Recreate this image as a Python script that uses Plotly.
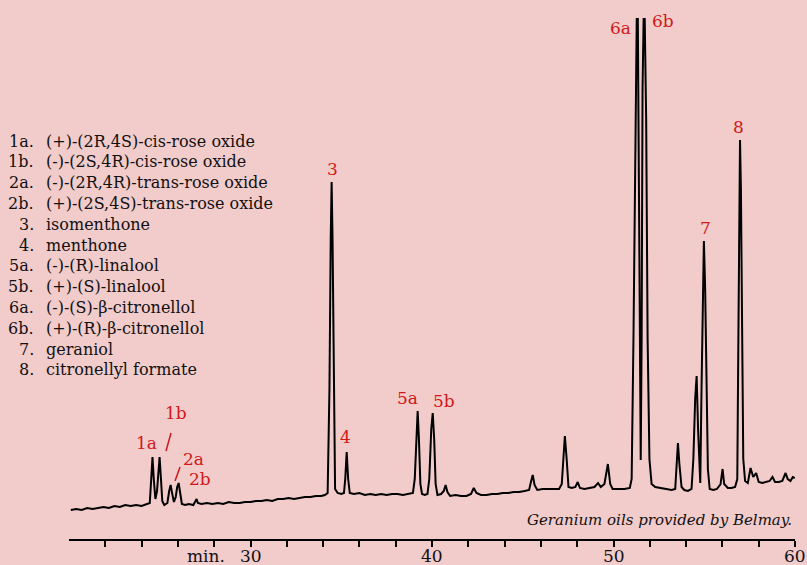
import plotly.graph_objects as go

# ---------------- data ----------------
times = [
    20.1, 20.4, 20.7, 21.0, 21.3, 21.6, 21.9, 22.2, 22.5, 22.8, 23.1, 23.4, 23.7, 24.0, 24.3,
    24.45, 24.53, 24.60, 24.67, 24.76,
    24.85, 24.92, 24.99, 25.06, 25.14, 25.25,
    25.42, 25.52, 25.60, 25.68, 25.78,
    25.88, 25.96, 26.04, 26.12, 26.22, 26.4, 26.6, 26.85,
    26.97, 27.03, 27.1, 27.3, 27.6, 27.9, 28.2, 28.5, 28.8, 29.1, 29.4, 29.7, 30.0, 30.3,
    30.6, 30.9, 31.2, 31.5, 31.8, 32.1, 32.4, 32.7, 33.0, 33.3, 33.6, 33.9, 34.1,
    34.25, 34.35, 34.42, 34.47, 34.52, 34.58, 34.66, 34.8, 35.0, 35.15,
    35.22, 35.30, 35.38, 35.47, 35.7, 36.0, 36.3, 36.6, 36.9, 37.2, 37.5, 37.8, 38.1, 38.4,
    38.7, 38.95,
    39.05, 39.14, 39.21, 39.28, 39.36, 39.45, 39.6, 39.75,
    39.85, 39.96, 40.04, 40.12, 40.2, 40.3, 40.5, 40.65, 40.75, 40.85, 41.0, 41.3, 41.6,
    41.9, 42.15, 42.3, 42.45, 42.7, 43.0, 43.3, 43.6, 43.9, 44.2, 44.5, 44.8, 45.1, 45.35,
    45.45, 45.55, 45.65, 45.8, 46.1, 46.4, 46.7, 47.0, 47.15,
    47.22, 47.32, 47.42, 47.52, 47.7, 47.9, 48.03, 48.15, 48.4, 48.7, 48.95, 49.15, 49.3,
    49.5, 49.69, 49.82, 49.95, 50.3, 50.6, 50.9,
    51.0, 51.1, 51.2, 51.28, 51.34, 51.4, 51.47, 51.5, 51.55, 51.6, 51.66, 51.72, 51.8,
    51.88, 51.98, 52.1, 52.3, 52.6, 52.9, 53.2, 53.4,
    53.48, 53.55, 53.63, 53.75, 53.9, 54.1, 54.3, 54.4, 54.5, 54.58, 54.66, 54.74, 54.78,
    54.85, 54.92, 54.98, 55.05, 55.12, 55.2, 55.3, 55.5, 55.7, 55.9, 56.01, 56.1, 56.3,
    56.5, 56.7, 56.82, 56.88, 56.93, 56.97, 57.02, 57.08, 57.15, 57.25, 57.4, 57.55, 57.7,
    57.86, 58.0, 58.2, 58.4, 58.6, 58.76, 58.9, 59.1, 59.3, 59.48, 59.6, 59.75, 59.88, 59.99,
]
signal = [
    29, 30, 29, 31, 30, 31, 32, 31, 33, 32, 34, 33, 34, 33, 35,
    36, 60, 82, 60, 40,
    48, 70, 82, 62, 38, 34,
    36, 48, 54, 46, 37,
    42, 52, 56, 46, 35, 34, 35, 34,
    38, 40, 36, 35, 36, 35, 36, 35, 37, 36, 36, 37, 37, 38,
    38, 39, 38, 40, 40, 41, 40, 41, 42, 42, 43, 43, 44,
    46, 150, 300, 357, 300, 150, 50, 46, 45, 46,
    60, 87, 60, 46, 45, 46, 44, 45, 44, 45, 44, 45, 45, 44,
    45, 46,
    60, 110, 128, 100, 55, 45, 44, 45,
    60, 110, 126, 100, 55, 44, 45, 48, 54, 47, 43, 44, 43,
    43, 45, 51, 46, 44, 44, 45, 45, 46, 46, 47, 47, 48, 49,
    57, 64, 54, 49, 50, 50, 50, 50, 55,
    80, 103, 80, 52, 51, 52, 57, 51, 50, 51, 52, 56, 52,
    55, 75, 55, 50, 50, 50, 51,
    60, 200, 420, 520, 520, 300, 90, 79, 200, 450, 520, 520, 420,
    200, 80, 55, 52, 51, 50, 49, 50,
    80, 96, 75, 52, 49, 48, 50, 80, 140, 163, 110, 62, 56,
    150, 260, 298, 250, 150, 70, 50, 49, 50, 55, 70, 55, 51,
    51, 52, 60, 200, 350, 399, 350, 200, 80, 58, 56, 71, 62,
    66, 57, 56, 57, 58, 62, 57, 57, 58, 66, 60, 58, 62, 61,
]

tick_values = [22, 24, 26, 28, 30, 32, 34, 36, 38, 40, 42, 44, 46, 48, 50, 52, 54, 56, 58, 60]
label_values = [30, 40, 50, 60]
label_texts = ["30", "40", "50", "60"]

peak_labels = ["1a", "1b", "2a", "2b", "3", "4", "5a", "5b", "6a", "6b", "7", "8"]
peak_label_px = [(146, 443), (176, 413), (193, 459), (200, 479), (332, 169), (345, 437),
                 (407, 398), (444, 401), (620, 28), (663, 21), (705, 228), (738, 127)]

legend_keys = ["1a.", "1b.", "2a.", "2b.", "3.", "4.", "5a.", "5b.", "6a.", "6b.", "7.", "8."]
legend_names = [
    "(+)-(2R,4S)-cis-rose oxide",
    "(-)-(2S,4R)-cis-rose oxide",
    "(-)-(2R,4R)-trans-rose oxide",
    "(+)-(2S,4S)-trans-rose oxide",
    "isomenthone",
    "menthone",
    "(-)-(R)-linalool",
    "(+)-(S)-linalool",
    "(-)-(S)-β-citronellol",
    "(+)-(R)-β-citronellol",
    "geraniol",
    "citronellyl formate",
]

# ---------------- layout geometry ----------------
W, H = 807, 565
ML, MR, MT, MB = 69, 12, 10, 26
PW, PH = W - ML - MR, H - MT - MB
X0, X1 = 20, 60
BG = "#f2cbcb"
RED = "#d01818"
FONT = "DejaVu Serif"


def px_to_x(px):
    return X0 + (px - ML) / PW * (X1 - X0)


def x_to_paper(x):
    return (x - X0) / (X1 - X0)


def py_to_y(py):
    return (MT + PH) - py


def px_to_paper(px):
    return (px - ML) / PW


def py_to_paper(py):
    return (MT + PH - py) / PH


fig = go.Figure()
fig.add_trace(go.Scatter(x=times, y=signal, mode="lines",
                         line=dict(color="black", width=2), hoverinfo="skip",
                         showlegend=False))

annotations = []
for lab, (px, py) in zip(peak_labels, peak_label_px):
    annotations.append(dict(x=px_to_paper(px), y=py_to_paper(py), xref="paper", yref="paper",
                            text=lab, showarrow=False, xanchor="center", yanchor="middle",
                            font=dict(family=FONT, size=17, color=RED)))

for i, (k, n) in enumerate(zip(legend_keys, legend_names)):
    py = 141 + i * 20.8
    annotations.append(dict(x=px_to_paper(36), y=py_to_paper(py), xref="paper", yref="paper",
                            text=k, showarrow=False, xanchor="right", yanchor="middle",
                            font=dict(family=FONT, size=16, color="#111")))
    annotations.append(dict(x=px_to_paper(44), y=py_to_paper(py), xref="paper", yref="paper",
                            text=n, showarrow=False, xanchor="left", yanchor="middle",
                            font=dict(family=FONT, size=16, color="#111")))

# axis numbers (drawn as annotations so they sit where the reference has them)
for v, t in zip(label_values, label_texts):
    anchor = "center"
    xpos = x_to_paper(v)
    annotations.append(dict(x=xpos, y=py_to_paper(556), xref="paper", yref="paper",
                            text=t, showarrow=False, xanchor=anchor, yanchor="middle",
                            font=dict(family=FONT, size=17, color="#111")))

annotations.append(dict(x=px_to_paper(794), y=py_to_paper(520), xref="paper", yref="paper",
                        text="<i>Geranium oils provided by Belmay.</i>", showarrow=False,
                        xanchor="right", yanchor="middle",
                        font=dict(family=FONT, size=15, color="#111")))
annotations.append(dict(x=px_to_paper(206), y=py_to_paper(556), xref="paper", yref="paper",
                        text="min.", showarrow=False, xanchor="center", yanchor="middle",
                        font=dict(family=FONT, size=17, color="#111")))

shapes = [
    dict(type="line", xref="x", yref="y", x0=px_to_x(171), y0=py_to_y(433),
         x1=px_to_x(166), y1=py_to_y(451), line=dict(color=RED, width=1.5)),
    dict(type="line", xref="x", yref="y", x0=px_to_x(180), y0=py_to_y(467),
         x1=px_to_x(175), y1=py_to_y(481), line=dict(color=RED, width=1.5)),
]

fig.update_layout(
    width=W, height=H,
    margin=dict(l=ML, r=MR, t=MT, b=MB),
    paper_bgcolor=BG, plot_bgcolor=BG,
    annotations=annotations, shapes=shapes,
    xaxis=dict(range=[X0, X1], showgrid=False, zeroline=False, showline=True,
               automargin=False,
               linecolor="black", linewidth=2, ticks="outside", ticklen=6, tickwidth=1.5,
               tickcolor="black", tickvals=tick_values, showticklabels=False),
    yaxis=dict(range=[0, PH], visible=False, fixedrange=True, automargin=False),
    showlegend=False,
)

fig.write_html("out.html", config=dict(displayModeBar=False),
               post_script="document.body.style.margin='0';")
